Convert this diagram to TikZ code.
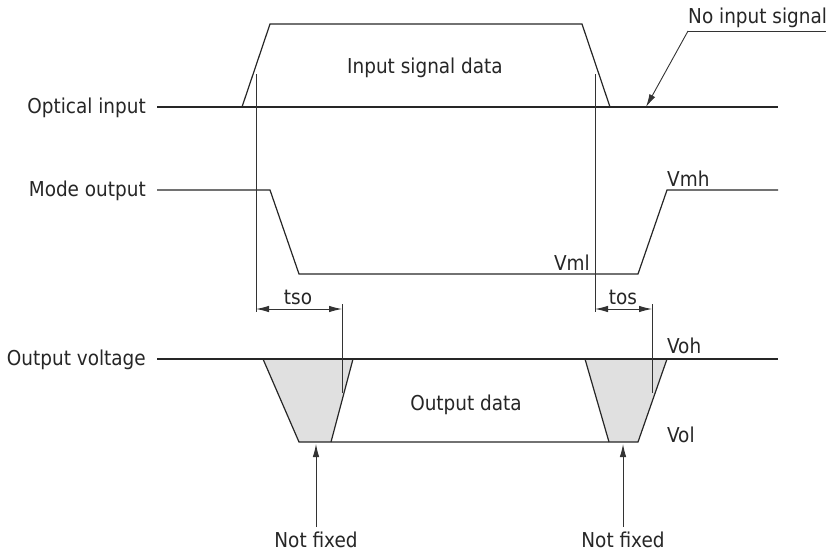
\documentclass[tikz,border=0pt]{standalone}
\usepackage{fontspec}
\setmainfont{DejaVu Sans Condensed}
\usetikzlibrary{arrows.meta}
\tikzset{
  wave/.style={line width=1.2pt, draw=black!85},
  guide/.style={line width=0.9pt, draw=black!80},
  lbl/.style={font=\fontsize{20.5}{24}\selectfont, text=black!85, inner sep=0pt},
  tip/.style={-{Latex[length=13pt,width=6.5pt]}},
  dim/.style={{Latex[length=13pt,width=6.5pt]}-{Latex[length=13pt,width=6.5pt]}}
}

\begin{document}
\begin{tikzpicture}[x=1pt,y=-1pt]
		\useasboundingbox (0,0) rectangle (826,551);
		%%%%% LABELS %%%%%
		\node[lbl, anchor=base east] (optlbl) at (146,113) {Optical input};
		\node[lbl, anchor=base east] (modelbl) at (146,196) {Mode output};
		\node[lbl, anchor=base east] (outlbl) at (146,365) {Output voltage};
		\node[lbl, anchor=base] (indata) at (425,74) {Input signal data};
		\node[lbl, anchor=base] (outdata) at (466,410) {Output data};
		\node[lbl, anchor=base west] (noin) at (688,24) {No input signal};
		\node[lbl, anchor=base] (tso) at (298,304) {tso};
		\node[lbl, anchor=base] (tos) at (623,304) {tos};
		\node[lbl, anchor=base west] (vmh) at (667,186) {Vmh};
		\node[lbl, anchor=base east] (vml) at (590,270) {Vml};
		\node[lbl, anchor=base west] (voh) at (667,353) {Voh};
		\node[lbl, anchor=base west] (vol) at (667,442) {Vol};
		\node[lbl, anchor=base] (nf1) at (316,547) {Not fixed};
		\node[lbl, anchor=base] (nf2) at (623,547) {Not fixed};

		%%%%% OPTICAL INPUT %%%%%
		\coordinate (o0) at (157,107);
		\coordinate (o1) at (242,107);
		\coordinate (o2) at (270,24);
		\coordinate (o3) at (582,24);
		\coordinate (o4) at (610,107);
		\coordinate (o5) at (778,107);
		\draw[wave] (o0) -- (o5);
		\draw[wave] (o1) -- (o2) -- (o3) -- (o4);

		%%%%% MODE OUTPUT %%%%%
		\coordinate (m0) at (157,190);
		\coordinate (m1) at (270,190);
		\coordinate (m2) at (299,274);
		\coordinate (m3) at (638,274);
		\coordinate (m4) at (667,190);
		\coordinate (m5) at (778,190);
		\draw[wave] (m0) -- (m1) -- (m2) -- (m3) -- (m4) -- (m5);

		%%%%% OUTPUT VOLTAGE %%%%%
		\coordinate (v0) at (157,359);
		\coordinate (v5) at (778,359);
		\coordinate (a1) at (263,359);
		\coordinate (a2) at (299,442);
		\coordinate (a3) at (331,442);
		\coordinate (a4) at (353,359);
		\coordinate (b1) at (585,359);
		\coordinate (b2) at (609,442);
		\coordinate (b3) at (638,442);
		\coordinate (b4) at (667,359);
		\fill[black!12] (a1) -- (a2) -- (a3) -- (a4) -- cycle;
		\fill[black!12] (b1) -- (b2) -- (b3) -- (b4) -- cycle;
		\draw[wave] (v0) -- (v5);
		\draw[wave] (a1) -- (a2) -- (b3) -- (b4);
		\draw[wave] (a3) -- (a4);
		\draw[wave] (b1) -- (b2);

		%%%%% TIMING %%%%%
		\coordinate (g1) at (256,74);
		\coordinate (g1e) at (256,312);
		\coordinate (g2) at (595,74);
		\coordinate (g2e) at (595,312);
		\coordinate (h1) at (342,304);
		\coordinate (h1e) at (342,393);
		\coordinate (h2) at (652,304);
		\coordinate (h2e) at (652,393);
		\draw[guide] (g1) -- (g1e);
		\draw[guide] (g2) -- (g2e);
		\draw[guide] (h1) -- (h1e);
		\draw[guide] (h2) -- (h2e);
		\draw[guide, dim] (g1 |- 0,309) -- (h1 |- 0,309);
		\draw[guide, dim] (g2 |- 0,309) -- (h2 |- 0,309);

		%%%%% CALLOUTS %%%%%
		\coordinate (n0) at (688,31);
		\coordinate (n1) at (826,31);
		\coordinate (n2) at (646,107);
		\draw[guide] (n1) -- (n0);
		\draw[guide, tip] (n0) -- (n2);
		\draw[guide, tip] (nf1.north) ++(0,-4) -- (316,444);
		\draw[guide, tip] (nf2.north) ++(0,-4) -- (623,444);
	\end{tikzpicture}
\end{document}
